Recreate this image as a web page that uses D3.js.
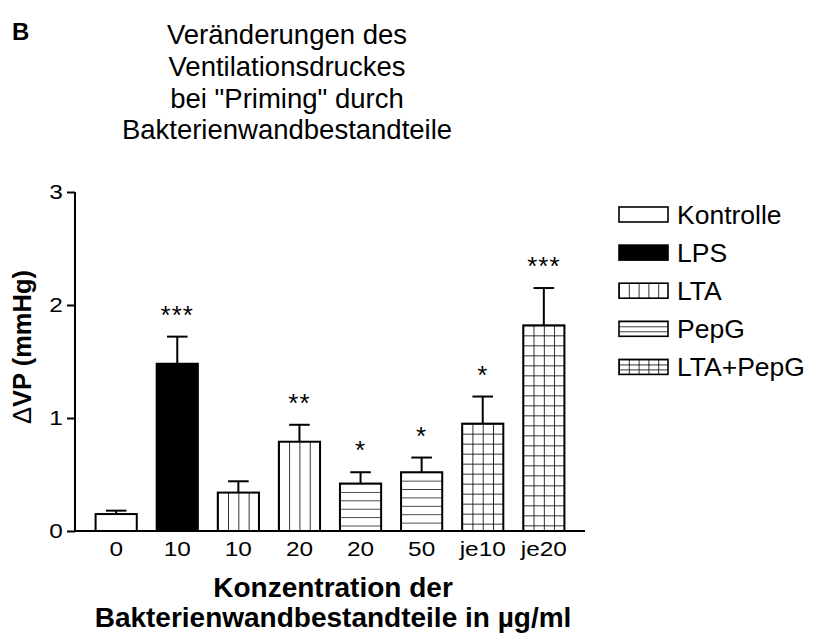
<!DOCTYPE html>
<html>
<head>
<meta charset="utf-8">
<script src="https://cdn.jsdelivr.net/npm/d3@7"></script>
<style>
  html, body { margin: 0; padding: 0; background: #fff; }
  svg text { font-family: "Liberation Sans", Arial, sans-serif; fill: #000; }
</style>
</head>
<body>
<svg id="chart" width="817" height="634"></svg>
<script>
// values (mean + SEM, mmHg)
var categories = ['0', '10', '10', '20', '20', '50', 'je10', 'je20'];
var groups = ['Kontrolle', 'LPS', 'LTA', 'LTA', 'PepG', 'PepG', 'LTA+PepG', 'LTA+PepG'];
var means = [0.15, 1.48, 0.34, 0.79, 0.42, 0.52, 0.95, 1.82];
var sems = [0.03, 0.24, 0.10, 0.15, 0.10, 0.13, 0.24, 0.33];
var stars = ['', '***', '', '**', '*', '*', '*', '***'];
var legendLabels = ['Kontrolle', 'LPS', 'LTA', 'PepG', 'LTA+PepG'];
var yTicks = [0, 1, 2, 3];
var titleLines = ['Veränderungen des', 'Ventilationsdruckes', 'bei "Priming" durch', 'Bakterienwandbestandteile'];
var xTitleLines = ['Konzentration der', 'Bakterienwandbestandteile in µg/ml'];

var svg = d3.select('#chart');
var defs = svg.append('defs');

var x = d3.scaleBand()
    .domain(d3.range(categories.length))
    .range([75, 585])
    .paddingInner(0.326)
    .paddingOuter(0.337);
var y = d3.scaleLinear().domain([0, 3]).range([531, 192]);
var bw = x.bandwidth();
var stretch = 1.22; // tick labels in the original are drawn a bit wide

// hatch patterns, one per bar so the lines line up with the bar edges
function makePattern(id, kind, ox, oy, cellW, cellH) {
    var w = kind == 'h' ? 50 : cellW;
    var h = kind == 'v' ? 50 : cellH;
    var p = defs.append('pattern')
        .attr('id', id)
        .attr('patternUnits', 'userSpaceOnUse')
        .attr('x', ox).attr('y', oy)
        .attr('width', w).attr('height', h);
    p.append('rect').attr('width', w).attr('height', h).attr('fill', '#fff');
    if (kind == 'v' || kind == 'g')
        p.append('line').attr('x1', 0).attr('x2', 0).attr('y1', 0).attr('y2', h)
            .attr('stroke', '#000').attr('stroke-width', 1.6);
    if (kind == 'h' || kind == 'g')
        p.append('line').attr('x1', 0).attr('x2', w).attr('y1', 0).attr('y2', 0)
            .attr('stroke', '#000').attr('stroke-width', 1.6);
}

function fillFor(group, id, ox, oy, cw, chH, chG) {
    if (group == 'Kontrolle') return '#fff';
    if (group == 'LPS') return '#000';
    if (group == 'LTA') { makePattern(id, 'v', ox, oy, cw, 0); return 'url(#' + id + ')'; }
    if (group == 'PepG') { makePattern(id, 'h', ox, oy, 0, chH); return 'url(#' + id + ')'; }
    makePattern(id, 'g', ox, oy, cw, chG);
    return 'url(#' + id + ')';
}

/* Title */
svg.append('text')
    .attr('x', 12).attr('y', 40)
    .style('font-size', '24px').style('font-weight', 'bold')
    .text('B');

svg.append('g').selectAll('text')
    .data(titleLines)
    .enter().append('text')
    .attr('x', 287)
    .attr('y', function(d, i) { return 44 + i * 31.8; })
    .attr('text-anchor', 'middle')
    .style('font-size', '27.5px')
    .text(function(d) { return d; });

/* Bars */
var bars = svg.append('g');
categories.forEach(function(c, i) {
    var bx = x(i), by = y(means[i]);
    var fill = fillFor(groups[i], 'pat' + i, bx, by, bw / 4, 8.4, 10);
    bars.append('rect')
        .attr('x', bx).attr('y', by)
        .attr('width', bw).attr('height', y(0) - by)
        .attr('fill', fill)
        .attr('stroke', '#000').attr('stroke-width', 2);

    // error bar (upper only)
    var cx = bx + bw / 2, top = y(means[i] + sems[i]);
    bars.append('line')
        .attr('x1', cx).attr('x2', cx).attr('y1', by).attr('y2', top)
        .attr('stroke', '#000').attr('stroke-width', 2);
    bars.append('line')
        .attr('x1', cx - bw / 4).attr('x2', cx + bw / 4).attr('y1', top).attr('y2', top)
        .attr('stroke', '#000').attr('stroke-width', 2);

    if (stars[i])
        bars.append('text')
            .attr('x', cx).attr('y', top - 28 + 15)
            .attr('text-anchor', 'middle')
            .style('font-size', '26px').style('letter-spacing', '1px')
            .text(stars[i]);
});

/* Axes */
var yAxis = svg.append('g')
    .attr('transform', 'translate(75,0)')
    .call(d3.axisLeft(y).tickValues(yTicks).tickFormat(d3.format('d')).tickSize(8).tickPadding(2));
yAxis.select('.domain').attr('stroke-width', 2).attr('d', 'M0,' + y(3) + 'V' + y(0));
yAxis.selectAll('.tick line').attr('stroke-width', 2);
yAxis.selectAll('.tick text')
    .attr('transform', 'scale(' + stretch + ',1)')
    .style('font-size', '20px');

svg.append('line')
    .attr('x1', 74).attr('x2', 585).attr('y1', y(0)).attr('y2', y(0))
    .attr('stroke', '#000').attr('stroke-width', 2);

svg.append('g').selectAll('text')
    .data(categories)
    .enter().append('text')
    .attr('transform', function(d, i) {
        return 'translate(' + (x(i) + bw / 2) + ',556) scale(' + stretch + ',1)';
    })
    .attr('text-anchor', 'middle')
    .style('font-size', '20px')
    .text(function(d) { return d; });

svg.append('g').selectAll('text')
    .data(xTitleLines)
    .enter().append('text')
    .attr('x', 333)
    .attr('y', function(d, i) { return 597 + i * 30; })
    .attr('text-anchor', 'middle')
    .style('font-size', '28px').style('font-weight', 'bold')
    .text(function(d) { return d; });

var yTitle = svg.append('text')
    .attr('transform', 'translate(31,347) rotate(-90)')
    .attr('text-anchor', 'middle')
    .style('font-size', '25.5px').style('font-weight', 'bold');
yTitle.append('tspan').style('font-weight', 'normal').text('\u0394');
yTitle.append('tspan').text('VP (mmHg)');

/* Legend */
var legend = svg.append('g');
legendLabels.forEach(function(name, i) {
    var cy = 214.5 + i * 38.1;
    var lx = 619, ly = cy - 7.5;
    var fill = fillFor(name, 'leg' + i, lx, ly, 9.8, 5, 5);
    legend.append('rect')
        .attr('x', lx).attr('y', ly).attr('width', 49).attr('height', 15)
        .attr('fill', fill).attr('stroke', '#000').attr('stroke-width', 1.6);
    legend.append('text')
        .attr('x', 677).attr('y', cy + 9)
        .style('font-size', '26.5px')
        .text(name);
});
</script>
</body>
</html>
